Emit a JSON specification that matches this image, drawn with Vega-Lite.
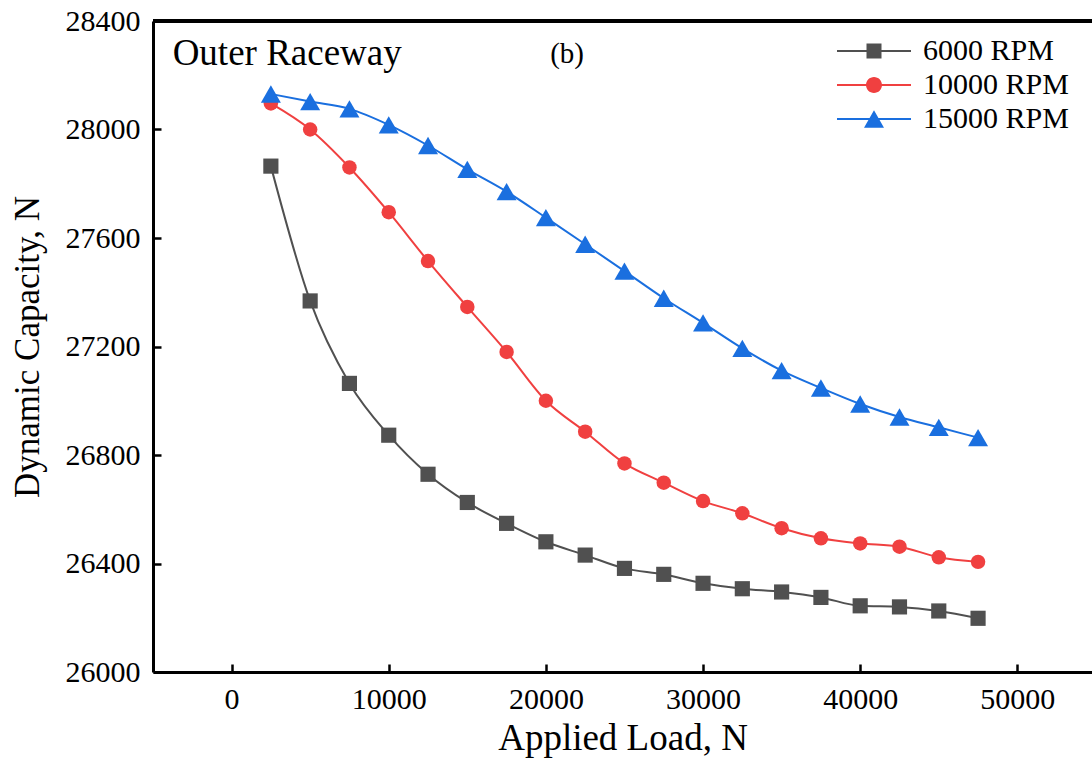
{
  "$schema": "https://vega.github.io/schema/vega-lite/v6.json",
  "width": 939,
  "height": 651,
  "autosize": {"type": "none"},
  "padding": {"left": 153, "top": 21, "right": 0, "bottom": 90},
  "background": "white",
  "config": {
    "view": {"stroke": null},
    "font": "Liberation Serif",
    "axis": {
      "grid": false,
      "zindex": 1,
      "domainColor": "black",
      "domainWidth": 3,
      "tickColor": "black",
      "tickWidth": 2.5,
      "tickSize": 8,
      "labelFont": "Liberation Serif",
      "labelFontSize": 30,
      "labelColor": "black",
      "titleFont": "Liberation Serif",
      "titleFontSize": 35,
      "titleFontWeight": "normal",
      "titleColor": "black"
    },
    "legend": {
      "labelFont": "Liberation Serif",
      "labelFontSize": 30,
      "labelColor": "black"
    }
  },
  "resolve": {"axis": {"x": "independent", "y": "independent"}},
  "datasets": {
    "main": [
      {"rpm": "6000 RPM", "load": 2500, "cap": 27865},
      {"rpm": "6000 RPM", "load": 5000, "cap": 27368},
      {"rpm": "6000 RPM", "load": 7500, "cap": 27064},
      {"rpm": "6000 RPM", "load": 10000, "cap": 26873},
      {"rpm": "6000 RPM", "load": 12500, "cap": 26729},
      {"rpm": "6000 RPM", "load": 15000, "cap": 26625},
      {"rpm": "6000 RPM", "load": 17500, "cap": 26548},
      {"rpm": "6000 RPM", "load": 20000, "cap": 26480},
      {"rpm": "6000 RPM", "load": 22500, "cap": 26431},
      {"rpm": "6000 RPM", "load": 25000, "cap": 26382},
      {"rpm": "6000 RPM", "load": 27500, "cap": 26360},
      {"rpm": "6000 RPM", "load": 30000, "cap": 26327},
      {"rpm": "6000 RPM", "load": 32500, "cap": 26307},
      {"rpm": "6000 RPM", "load": 35000, "cap": 26295},
      {"rpm": "6000 RPM", "load": 37500, "cap": 26275},
      {"rpm": "6000 RPM", "load": 40000, "cap": 26244},
      {"rpm": "6000 RPM", "load": 42500, "cap": 26240},
      {"rpm": "6000 RPM", "load": 45000, "cap": 26225},
      {"rpm": "6000 RPM", "load": 47500, "cap": 26198},
      {"rpm": "10000 RPM", "load": 2500, "cap": 28096},
      {"rpm": "10000 RPM", "load": 5000, "cap": 28000},
      {"rpm": "10000 RPM", "load": 7500, "cap": 27860},
      {"rpm": "10000 RPM", "load": 10000, "cap": 27695},
      {"rpm": "10000 RPM", "load": 12500, "cap": 27515},
      {"rpm": "10000 RPM", "load": 15000, "cap": 27346},
      {"rpm": "10000 RPM", "load": 17500, "cap": 27180},
      {"rpm": "10000 RPM", "load": 20000, "cap": 27000},
      {"rpm": "10000 RPM", "load": 22500, "cap": 26886},
      {"rpm": "10000 RPM", "load": 25000, "cap": 26769},
      {"rpm": "10000 RPM", "load": 27500, "cap": 26698},
      {"rpm": "10000 RPM", "load": 30000, "cap": 26630},
      {"rpm": "10000 RPM", "load": 32500, "cap": 26585},
      {"rpm": "10000 RPM", "load": 35000, "cap": 26530},
      {"rpm": "10000 RPM", "load": 37500, "cap": 26493},
      {"rpm": "10000 RPM", "load": 40000, "cap": 26474},
      {"rpm": "10000 RPM", "load": 42500, "cap": 26462},
      {"rpm": "10000 RPM", "load": 45000, "cap": 26423},
      {"rpm": "10000 RPM", "load": 47500, "cap": 26406},
      {"rpm": "15000 RPM", "load": 2500, "cap": 28131},
      {"rpm": "15000 RPM", "load": 5000, "cap": 28103},
      {"rpm": "15000 RPM", "load": 7500, "cap": 28076},
      {"rpm": "15000 RPM", "load": 10000, "cap": 28017},
      {"rpm": "15000 RPM", "load": 12500, "cap": 27941},
      {"rpm": "15000 RPM", "load": 15000, "cap": 27853},
      {"rpm": "15000 RPM", "load": 17500, "cap": 27771},
      {"rpm": "15000 RPM", "load": 20000, "cap": 27675},
      {"rpm": "15000 RPM", "load": 22500, "cap": 27577},
      {"rpm": "15000 RPM", "load": 25000, "cap": 27478},
      {"rpm": "15000 RPM", "load": 27500, "cap": 27378},
      {"rpm": "15000 RPM", "load": 30000, "cap": 27287},
      {"rpm": "15000 RPM", "load": 32500, "cap": 27193},
      {"rpm": "15000 RPM", "load": 35000, "cap": 27111},
      {"rpm": "15000 RPM", "load": 37500, "cap": 27047},
      {"rpm": "15000 RPM", "load": 40000, "cap": 26988},
      {"rpm": "15000 RPM", "load": 42500, "cap": 26940},
      {"rpm": "15000 RPM", "load": 45000, "cap": 26902},
      {"rpm": "15000 RPM", "load": 47500, "cap": 26864}
    ],
    "notes": [
      {"note": "Outer Raceway"}
    ]
  },
  "data": {"name": "main"},
  "layer": [
    {
      "transform": [{"filter": "datum.rpm === '6000 RPM'"}],
      "mark": {"type": "line", "interpolate": "monotone", "strokeWidth": 2, "color": "#505050"},
      "encoding": {
        "x": {
          "field": "load",
          "type": "quantitative",
          "scale": {"domain": [-5000, 54750], "nice": false, "zero": false},
          "axis": {
            "orient": "bottom",
            "ticks": false,
            "title": "Applied Load, N",
            "titleFontSize": 37,
            "values": [0, 10000, 20000, 30000, 40000, 50000],
            "format": "d",
            "labelPadding": 12,
            "titlePadding": 6
          }
        },
        "y": {
          "field": "cap",
          "type": "quantitative",
          "scale": {"domain": [26000, 28400], "nice": false, "zero": false},
          "axis": {
            "orient": "left",
            "ticks": false,
            "title": "Dynamic Capacity, N",
            "values": [26000, 26400, 26800, 27200, 27600, 28000, 28400],
            "format": "d",
            "labelPadding": 13,
            "titlePadding": 20
          }
        }
      }
    },
    {
      "transform": [{"filter": "datum.rpm === '10000 RPM'"}],
      "mark": {"type": "line", "interpolate": "monotone", "strokeWidth": 2, "color": "#f04040"},
      "encoding": {
        "x": {"field": "load", "type": "quantitative", "axis": null},
        "y": {"field": "cap", "type": "quantitative", "axis": null}
      }
    },
    {
      "transform": [{"filter": "datum.rpm === '15000 RPM'"}],
      "mark": {"type": "line", "interpolate": "monotone", "strokeWidth": 2, "color": "#1a6fdf"},
      "encoding": {
        "x": {"field": "load", "type": "quantitative", "axis": null},
        "y": {"field": "cap", "type": "quantitative", "axis": null}
      }
    },
    {
      "transform": [{"filter": "datum.rpm === '6000 RPM'"}],
      "mark": {"type": "point", "shape": "square", "filled": true, "opacity": 1, "size": 230, "color": "#505050"},
      "encoding": {
        "x": {
          "field": "load",
          "type": "quantitative",
          "axis": {
            "orient": "bottom",
            "domain": false,
            "labels": false,
            "title": null,
            "ticks": true,
            "offset": -8,
            "values": [0, 10000, 20000, 30000, 40000, 50000]
          }
        },
        "y": {
          "field": "cap",
          "type": "quantitative",
          "axis": {
            "orient": "left",
            "domain": false,
            "labels": false,
            "title": null,
            "ticks": true,
            "offset": -8,
            "values": [26000, 26400, 26800, 27200, 27600, 28000, 28400]
          }
        }
      }
    },
    {
      "transform": [{"filter": "datum.rpm === '10000 RPM'"}],
      "mark": {"type": "point", "shape": "circle", "filled": true, "opacity": 1, "size": 210, "color": "#f04040"},
      "encoding": {
        "x": {"field": "load", "type": "quantitative", "axis": null},
        "y": {"field": "cap", "type": "quantitative", "axis": null}
      }
    },
    {
      "transform": [{"filter": "datum.rpm === '15000 RPM'"}],
      "mark": {"type": "point", "shape": "triangle-up", "filled": true, "opacity": 1, "size": 400, "color": "#1a6fdf"},
      "encoding": {
        "x": {"field": "load", "type": "quantitative", "axis": null},
        "y": {"field": "cap", "type": "quantitative", "axis": null}
      }
    },
    {
      "transform": [{"filter": "datum.load < 0"}],
      "mark": {"type": "point", "filled": true, "opacity": 1},
      "encoding": {
        "x": {"field": "load", "type": "quantitative", "axis": null},
        "y": {"field": "cap", "type": "quantitative", "axis": null},
        "color": {
          "field": "rpm",
          "type": "nominal",
          "scale": {"domain": ["6000 RPM", "10000 RPM", "15000 RPM"], "range": ["#505050", "#f04040", "#1a6fdf"]},
          "legend": {
            "title": null,
            "orient": "none",
            "legendX": 679,
            "legendY": 15,
            "symbolSize": 400,
            "symbolOffset": 27,
            "labelOffset": 34,
            "symbolStrokeWidth": 0,
            "rowPadding": 4
          }
        },
        "shape": {
          "field": "rpm",
          "type": "nominal",
          "scale": {
            "domain": ["6000 RPM", "10000 RPM", "15000 RPM"],
            "range": [
              "M-3.7,-0.1H3.7V0.1H-3.7Z M-0.75,-0.75H0.75V0.75H-0.75Z",
              "M-3.7,-0.1H3.7V0.1H-3.7Z M-0.8,0A0.8,0.8,0,1,1,0.8,0A0.8,0.8,0,1,1,-0.8,0Z",
              "M-3.7,-0.1H3.7V0.1H-3.7Z M0,-0.866L1,0.866L-1,0.866Z"
            ]
          },
          "legend": {
            "title": null,
            "orient": "none",
            "legendX": 679,
            "legendY": 15,
            "symbolSize": 400,
            "symbolOffset": 27,
            "labelOffset": 34,
            "symbolStrokeWidth": 0,
            "rowPadding": 4
          }
        }
      }
    },
    {
      "mark": {"type": "rule", "color": "black", "strokeWidth": 3},
      "encoding": {"y": {"datum": 28400, "axis": null}}
    },
    {
      "data": {"name": "notes"},
      "mark": {"type": "text", "font": "Liberation Serif", "fontSize": 37, "align": "left", "baseline": "alphabetic", "color": "black"},
      "encoding": {"text": {"field": "note"}, "x": {"datum": -3750, "axis": null}, "y": {"datum": 28238, "axis": null}}
    },
    {
      "data": {"name": "notes"},
      "mark": {"type": "text", "text": "(b)", "font": "Liberation Serif", "fontSize": 29, "align": "center", "baseline": "alphabetic", "color": "black"},
      "encoding": {"x": {"datum": 21350, "axis": null}, "y": {"datum": 28245, "axis": null}}
    }
  ]
}
